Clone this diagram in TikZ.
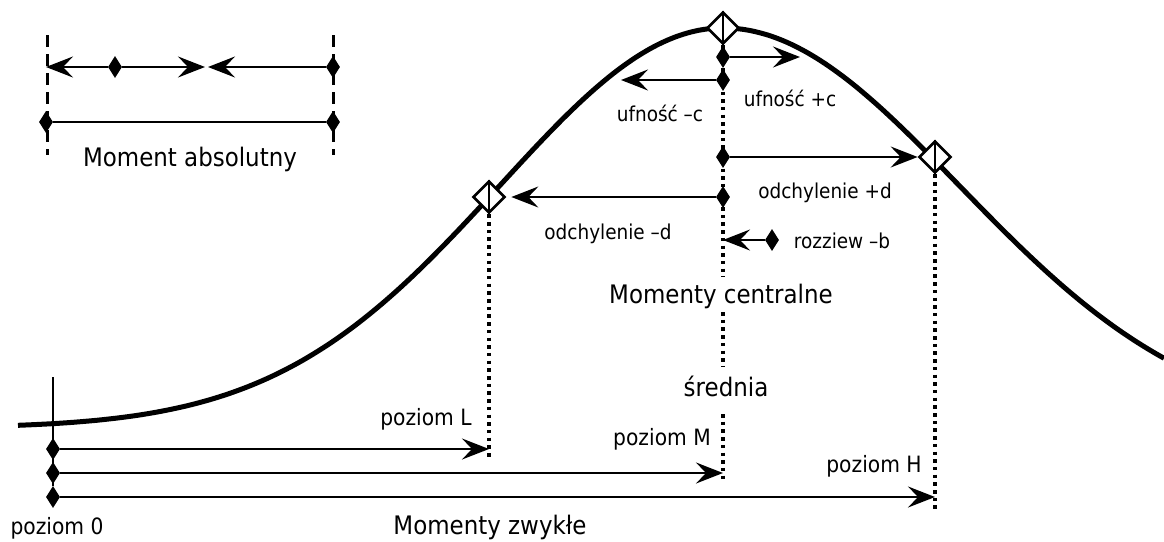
\documentclass[tikz,border=0pt]{standalone}
\usepackage{fontspec}
\setmainfont{DejaVu Sans}[FakeStretch=0.9]
\usetikzlibrary{shapes.geometric,arrows.meta}
\begin{document}
\begin{tikzpicture}[x=1pt,y=-1pt,
  curve/.style={line width=5pt, line join=round},
  thin/.style={line width=2.2pt},
  arr/.style={thin,-{Stealth[length=27pt,width=21pt,inset=10pt]}},
  dot/.style={diamond,fill=black,inner sep=0pt,minimum width=14pt,minimum height=22pt},
  odiam/.style={diamond,draw,fill=white,line width=2.7pt,inner sep=0pt,minimum size=32pt},
  dotline/.style={line width=3.5pt,dash pattern=on 3.5pt off 4.2pt},
  dashline/.style={line width=3pt,dash pattern=on 12pt off 7pt},
  big/.style={font=\fontsize{25.5}{30}\selectfont, inner sep=0pt, anchor=base},
  small/.style={font=\fontsize{20.5}{24}\selectfont, inner sep=0pt, anchor=base},
  lvl/.style={font=\fontsize{22.5}{26}\selectfont, inner sep=0pt, anchor=base}
]
\useasboundingbox (0,0) rectangle (1164,541);

% distribution curve (two half-Gaussians)
\draw[curve] plot[domain=18:723, samples=90, smooth] (\x, {428-400*exp(-0.5*((\x-723)/223)^2)})
  -- plot[domain=723:1164, samples=70, smooth] (\x, {428-400*exp(-0.5*((\x-723)/236)^2)});

% open diamonds on the curve
\node[odiam] (L) at (489,197) {};
\node[odiam] (P) at (723,28) {};
\node[odiam] (H) at (935,157) {};
\draw[line width=2.5pt] (L.north) -- (L.south);
\draw[line width=2.5pt] (P.north) -- (P.south);
\draw[line width=2.5pt] (H.north) -- (H.south);

% dotted verticals
\coordinate (m1) at (723,277);
\coordinate (m2) at (723,312);
\coordinate (m3) at (723,367);
\coordinate (m4) at (723,414);
\coordinate (m5) at (723,483);
\draw[dotline] (P.south) -- (m1);
\draw[dotline] (m2) -- (m3);
\draw[dotline] (m4) -- (m5);
\coordinate (lEnd) at (489,458);
\draw[dotline] (L.south) -- (lEnd);
\coordinate (hEnd) at (935,512);
\draw[dotline] (H.south) -- (hEnd);

% central moments
\node[dot] (c1) at (723,57) {};
\coordinate (c1e) at (800,57);
\draw[arr] (c1) -- (c1e);
\node[dot] (c2) at (723,80) {};
\coordinate (c2e) at (621,80);
\draw[arr] (c2) -- (c2e);
\node[dot] (d1) at (723,157) {};
\draw[arr] (d1) -- (H);
\node[dot] (d2) at (723,197) {};
\draw[arr, shorten >=5pt] (d2) -- (L);
\node[dot] (b1) at (772,240) {};
\coordinate (b1e) at (723,240);
\draw[arr] (b1) -- (b1e);

% absolute moment block
\coordinate (t1) at (47,35);
\coordinate (t2) at (47,155);
\coordinate (t3) at (333,35);
\coordinate (t4) at (333,155);
\draw[dashline] (t1) -- (t2);
\draw[dashline] (t3) -- (t4);
\coordinate (aL) at (46,67);
\coordinate (aM1) at (205,67);
\coordinate (aM2) at (208,67);
\node[dot] (a1) at (115,67) {};
\node[dot] (a2) at (333,67) {};
\draw[arr] (a1) -- (aL);
\draw[arr] (a1) -- (aM1);
\draw[arr] (a2) -- (aM2);
\node[dot] (a3) at (46,122) {};
\node[dot] (a4) at (333,122) {};
\draw[thin] (a3) -- (a4);

% ordinary moments
\coordinate (v0) at (53,377);
\node[dot] (z1) at (53,449) {};
\node[dot] (z2) at (53,473) {};
\node[dot] (z3) at (53,497) {};
\draw[thin] (v0) -- (z3);
\coordinate (zL) at (489,449);
\coordinate (zM) at (723,473);
\coordinate (zH) at (935,497);
\draw[arr] (z1) -- (zL);
\draw[arr] (z2) -- (zM);
\draw[arr] (z3) -- (zH);

% labels
\node[big] (tabs) at (190,166) {Moment absolutny};
\node[small] (tcm) at (660,121) {ufność –c};
\node[small] (tcp) at (790,106) {ufność +c};
\node[small] (tdp) at (825,198) {odchylenie +d};
\node[small] (tdm) at (608,239) {odchylenie –d};
\node[small] (tb) at (842,248) {rozziew –b};
\node[big] (tcen) at (721,303) {Momenty centralne};
\node[big] (tsr) at (726,396) {średnia};
\node[lvl] (tL) at (426,425) {poziom L};
\node[lvl] (tM) at (662,445) {poziom M};
\node[lvl] (tH) at (874,472) {poziom H};
\node[lvl] (t0) at (57,534) {poziom 0};
\node[big] (tzw) at (490,534) {Momenty zwykłe};
\end{tikzpicture}
\end{document}
